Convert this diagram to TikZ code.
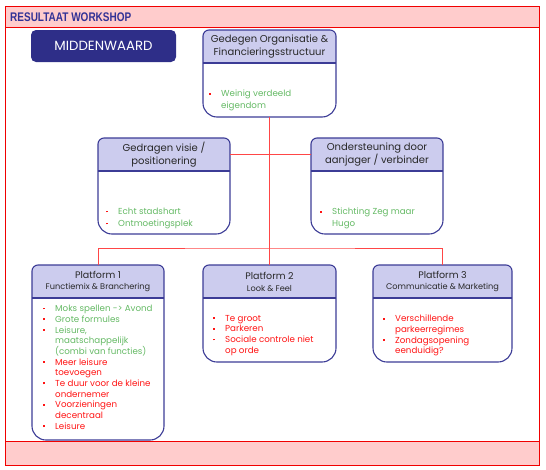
\documentclass[tikz,border=0pt]{standalone}
\usepackage{fontspec}
\setmainfont{Poppins}
\newfontfamily\headfont[FakeStretch=0.8]{Liberation Sans}
\usepackage{xcolor}
\usetikzlibrary{positioning,calc}

\definecolor{bandpink}{RGB}{255,204,204}
\definecolor{framered}{RGB}{240,0,0}
\definecolor{linkred}{RGB}{255,70,70}
\definecolor{panelblue}{RGB}{60,60,150}
\definecolor{headlav}{RGB}{204,204,238}
\definecolor{middenblue}{RGB}{46,46,136}
\definecolor{titleblue}{RGB}{50,50,150}
\definecolor{headgray}{RGB}{40,40,40}
\definecolor{okgreen}{RGB}{100,185,100}
\definecolor{badred}{RGB}{255,20,20}

\newcommand\bul{\makebox[12pt][l]{\textcolor{badred}{\rule[2.2pt]{1.9pt}{1.9pt}}}}
\newcommand\ind{\hspace*{12pt}}

\begin{document}
\begin{tikzpicture}[x=1pt,y=-1pt,
panel/.style={inner sep=0pt, outer sep=0pt},
head/.style={inner sep=0pt, minimum height=33pt, anchor=north, align=center, text=headgray, font=\fontsize{10}{12.5}\selectfont},
plat head/.style={head, font=\fontsize{9.5}{11.5}\selectfont},
list/.style={inner sep=0pt, anchor=north west, align=left, font=\fontsize{8.7}{10.7}\selectfont},
wide list/.style={list, font=\fontsize{8.7}{12}\selectfont},
link/.style={draw=linkred, line width=1pt},
panel line/.style={draw=panelblue, line width=1.1pt}
]
\useasboundingbox (0,0) rectangle (546,469);

% frame and bands
\draw[framered, fill=bandpink, line width=1pt] (5,6) rectangle (539,27);
\draw[framered, fill=bandpink, line width=1pt] (5,441) rectangle (539,465);
\draw[framered, line width=1pt] (5,6) rectangle (539,465);
\node[anchor=west, inner sep=0pt, text=titleblue, font=\headfont\bfseries\fontsize{12.5}{14}\selectfont] (title) at (10,17) {RESULTAAT WORKSHOP};

\node[fill=middenblue, rounded corners=5pt, minimum width=145pt, minimum height=32pt, text=white, font=\fontsize{13.3}{14}\selectfont] (midden) at (103.5,46) {MIDDENWAARD};

% panels
\node[panel, minimum width=133pt, minimum height=87pt] (org) at (269.5,73.5) {};
\node[panel, minimum width=132pt, minimum height=96pt] (visie) at (164,186) {};
\node[panel, minimum width=132pt, minimum height=96pt] (steun) at (377,186) {};
\node[panel, minimum width=132pt, minimum height=175pt] (plat1) at (98,352.5) {};
\node[panel, minimum width=133pt, minimum height=97pt] (plat2) at (269.5,313.5) {};
\node[panel, minimum width=139pt, minimum height=97pt] (plat3) at (442.5,313.5) {};

\foreach \b in {org,visie,steun,plat1,plat2,plat3}{
  \begin{scope}
    \clip (\b.west) [rounded corners=14pt] -- (\b.south west) -- (\b.south east) -- (\b.east)
      [rounded corners=6pt] -- (\b.north east) -- (\b.north west) -- cycle;
    \fill[headlav] (\b.north west) rectangle ([yshift=-33pt]\b.north east);
  \end{scope}
  \draw[panel line] ([yshift=-33pt]\b.north west) -- ([yshift=-33pt]\b.north east);
  \draw[panel line] (\b.west) [rounded corners=14pt] -- (\b.south west) -- (\b.south east) -- (\b.east)
    [rounded corners=6pt] -- (\b.north east) -- (\b.north west) -- cycle;
}

% headers
\node[head, minimum width=133pt] (org-h) at (org.north) {Gedegen Organisatie \&\\Financieringsstructuur};
\node[head, minimum width=132pt] (visie-h) at (visie.north) {Gedragen visie /\\positionering};
\node[head, minimum width=132pt] (steun-h) at (steun.north) {Ondersteuning door\\aanjager / verbinder};
\node[plat head, minimum width=132pt] (plat1-h) at (plat1.north) {Platform 1\\{\fontsize{8.2}{10}\selectfont Functiemix \& Branchering}};
\node[plat head, minimum width=133pt] (plat2-h) at (plat2.north) {Platform 2\\{\fontsize{8.2}{10}\selectfont Look \& Feel}};
\node[plat head, minimum width=139pt] (plat3-h) at (plat3.north) {Platform 3\\{\fontsize{8.2}{10}\selectfont Communicatie \& Marketing}};

% lists
\node[wide list] (org-l) at ([xshift=6pt,yshift=-60pt]org.north west) {\bul\textcolor{okgreen}{Weinig verdeeld}\\\ind\textcolor{okgreen}{eigendom}};
\node[wide list] (visie-l) at ([xshift=8pt,yshift=-70pt]visie.north west) {\bul\textcolor{okgreen}{Echt stadshart}\\\bul\textcolor{okgreen}{Ontmoetingsplek}};
\node[wide list] (steun-l) at ([xshift=9pt,yshift=-70pt]steun.north west) {\bul\textcolor{okgreen}{Stichting Zeg maar}\\\ind\textcolor{okgreen}{Hugo}};
\node[list] (plat1-l) at ([xshift=11pt,yshift=-40pt]plat1.north west) {%
\bul\textcolor{okgreen}{Moks spellen -> Avond}\\
\bul\textcolor{okgreen}{Grote formules}\\
\bul\textcolor{okgreen}{Leisure,}\\
\ind\textcolor{okgreen}{maatschappelijk}\\
\ind\textcolor{okgreen}{(combi van functies)}\\
\bul\textcolor{badred}{Meer leisure}\\
\ind\textcolor{badred}{toevoegen}\\
\bul\textcolor{badred}{Te duur voor de kleine}\\
\ind\textcolor{badred}{ondernemer}\\
\bul\textcolor{badred}{Voorzieningen}\\
\ind\textcolor{badred}{decentraal}\\
\bul\textcolor{badred}{Leisure}};
\node[list] (plat2-l) at ([xshift=10pt,yshift=-50pt]plat2.north west) {%
\bul\textcolor{badred}{Te groot}\\
\bul\textcolor{badred}{Parkeren}\\
\bul\textcolor{badred}{Sociale controle niet}\\
\ind\textcolor{badred}{op orde}};
\node[list] (plat3-l) at ([xshift=10pt,yshift=-50pt]plat3.north west) {%
\bul\textcolor{badred}{Verschillende}\\
\ind\textcolor{badred}{parkeerregimes}\\
\bul\textcolor{badred}{Zondagsopening}\\
\ind\textcolor{badred}{eenduidig?}};

% connectors
\coordinate (bus) at (269.5,248);
\draw[link] (org.south) -- (plat2.north);
\draw[link] (visie-h.east) -- (steun-h.west);
\draw[link] (plat1.north) |- (bus) -| (plat3.north);
\end{tikzpicture}
\end{document}
